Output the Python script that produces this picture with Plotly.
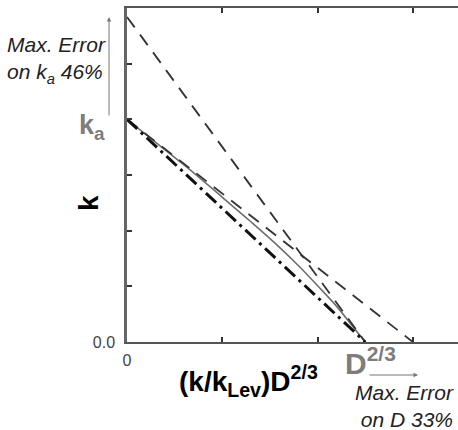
import plotly.graph_objects as go

# ---- data (axis units) ----
ka = 4.0            # intercept on k axis
d_int = 2.5         # intercept on D^(2/3) axis
curve_x = [0.0, 0.35, 0.7, 1.0, 1.3, 1.55, 1.8, 2.0, 2.2, 2.35, 2.5]
curve_y = [4.0, 3.52, 3.04, 2.6, 2.16, 1.78, 1.37, 1.01, 0.64, 0.32, 0.0]
chord_x = [0.0, 2.5]
chord_y = [4.0, 0.0]
tan0_x = [0.0, 3.0]     # tangent at k axis
tan0_y = [4.0, 0.0]
tan1_x = [0.0, 2.5]     # tangent at D axis
tan1_y = [5.84, 0.0]
x_tickvals = [0, 1, 2, 3]
x_ticktext = ["0", "", "", ""]
y_tickvals = [0, 1, 2, 3, 4, 5, 6]
y_ticktext = ["0.0", "", "", "", "", "", ""]

W, H = 458, 430
L, R, T, B = 127, 0, 8, 88
PW, PH = W - L - R, H - T - B
XMAX = PW / 95.3


def P(px, py):
    return (px - L) / PW, (H - B - py) / PH


FONT = "Liberation Sans, Arial, sans-serif"
GRAY = "#7d7d7d"

fig = go.Figure()
fig.add_trace(go.Scatter(x=curve_x, y=curve_y, mode="lines",
                         line=dict(color="#6e6e6e", width=1.6, shape="spline", smoothing=1.0),
                         showlegend=False))
fig.add_trace(go.Scatter(x=tan0_x, y=tan0_y, mode="lines",
                         line=dict(color="#333333", width=1.8, dash="13px,9px"), showlegend=False))
fig.add_trace(go.Scatter(x=tan1_x, y=tan1_y, mode="lines",
                         line=dict(color="#333333", width=1.8, dash="13px,9px"), showlegend=False))
fig.add_trace(go.Scatter(x=chord_x, y=chord_y, mode="lines",
                         line=dict(color="#111111", width=3, dash="14px,5px,3px,5px"), showlegend=False))

ann = []


def text(px, py, t, size, color="#222222", xanchor="center", yanchor="middle", angle=0, align="center"):
    x, y = P(px, py)
    ann.append(dict(x=x, y=y, xref="paper", yref="paper", text=t, showarrow=False,
                    xanchor=xanchor, yanchor=yanchor, textangle=angle, align=align,
                    font=dict(family=FONT, size=size, color=color)))


def arrow(tx, ty, axo, ayo):
    x, y = P(tx, ty)
    ann.append(dict(x=x, y=y, xref="paper", yref="paper", text="", showarrow=True,
                    ax=axo, ay=ayo, axref="pixel", ayref="pixel",
                    arrowhead=2, arrowsize=0.9, arrowwidth=1, arrowcolor="#777777"))


text(88, 203, "<b>k</b>", 28, "#000000", angle=-90)
text(92, 127, "<b>k<sub>a</sub></b>", 27, GRAY)
arrow(109, 17, 0, 100)
text(5, 31, "<i>Max. Error<br>on k<sub>a</sub> 46%</i>", 21, "#222222", xanchor="left", yanchor="top", align="left")
text(248, 381, "<b>(k/k<sub>Lev</sub>)D<sup>2/3</sup></b>", 28, "#000000")
text(343, 361, "<b>D<sup>2/3</sup></b>", 30, GRAY, xanchor="left")
arrow(418, 375, -50, 0)
text(456, 379, "<i>Max. Error<br>on D 33%</i>", 21, "#222222", xanchor="right", yanchor="top", align="right")

fig.update_layout(
    width=W, height=H,
    margin=dict(l=L, r=R, t=T, b=B, pad=0),
    paper_bgcolor="white", plot_bgcolor="white",
    annotations=ann,
    xaxis=dict(range=[0, XMAX], showgrid=False, zeroline=False,
               showline=True, linecolor="#555555", linewidth=2, mirror="ticks",
               ticks="inside", ticklen=5, tickwidth=1.5, tickcolor="#333333",
               tickvals=x_tickvals, ticktext=x_ticktext, ticklabelstandoff=3,
               tickfont=dict(family=FONT, size=16, color="#444444")),
    yaxis=dict(range=[0, 6], showgrid=False, zeroline=False,
               showline=True, linecolor="#666666", linewidth=2.5, mirror=False,
               ticks="inside", ticklen=5, tickwidth=1.5, tickcolor="#333333",
               tickvals=y_tickvals, ticktext=y_ticktext, ticklabelstandoff=6,
               tickfont=dict(family=FONT, size=16, color="#444444")),
)

fig.write_html("out.html")
